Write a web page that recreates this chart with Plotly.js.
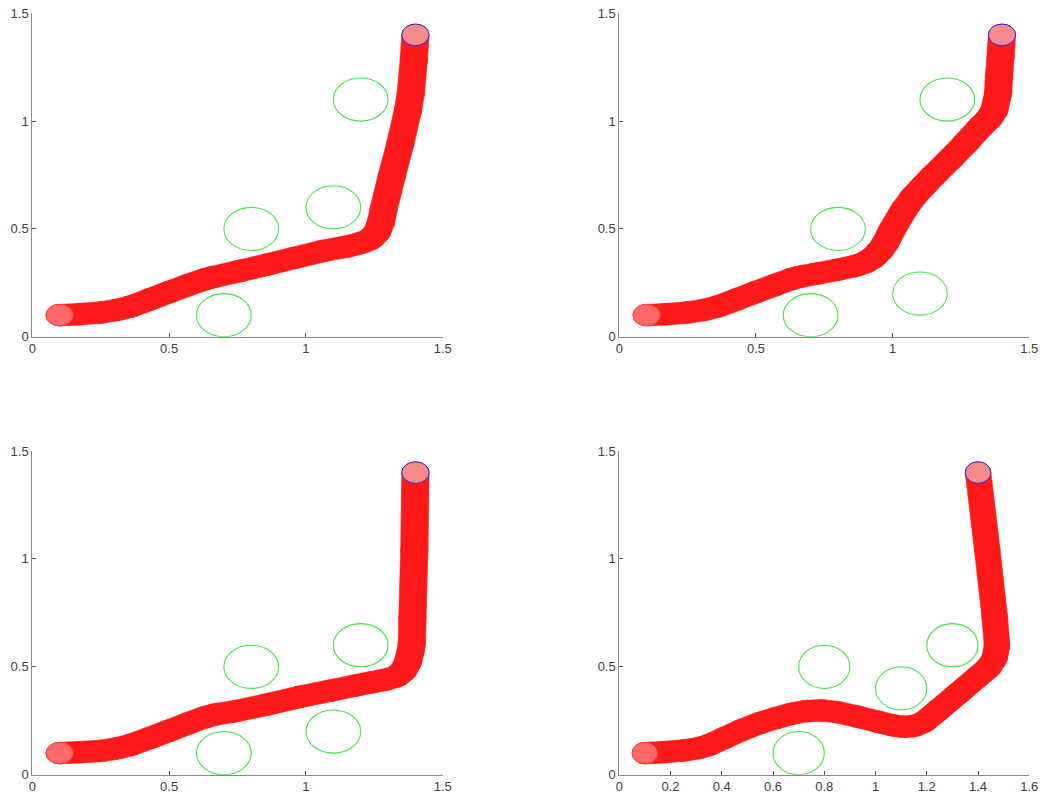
<!DOCTYPE html>
<html>
<head>
<meta charset="utf-8">
<script src="https://cdn.plot.ly/plotly-3.0.1.min.js"></script>
<style>
  html, body { margin: 0; padding: 0; background: #ffffff; }
  #plot { width: 1046px; height: 800px; }
</style>
</head>
<body>
<div id="plot"></div>
<script>
// Robot footprint radius and obstacle radius (data units)
const robotRadius = 0.05;
const obstacleRadius = 0.1;

// Start and goal positions
const startX = 0.1, startY = 0.1;
const goalX = 1.4, goalY = 1.4;

// Scenario 1: four obstacles
const obstacles1X = [0.7, 0.8, 1.1, 1.2];
const obstacles1Y = [0.1, 0.5, 0.6, 1.1];
const path1X = [0.10, 0.17, 0.25, 0.31, 0.36, 0.43, 0.50, 0.57, 0.63, 0.66, 0.76, 0.86, 0.96, 1.06, 1.15, 1.20, 1.235, 1.26, 1.275, 1.283, 1.313, 1.345, 1.373, 1.383, 1.394, 1.400];
const path1Y = [0.100, 0.104, 0.112, 0.124, 0.140, 0.173, 0.207, 0.240, 0.266, 0.276, 0.305, 0.335, 0.366, 0.397, 0.418, 0.434, 0.452, 0.485, 0.535, 0.588, 0.742, 0.897, 1.051, 1.129, 1.283, 1.400];

// Scenario 2: obstacle moved from (1.1, 0.6) to (1.1, 0.2)
const obstacles2X = [0.7, 0.8, 1.1, 1.2];
const obstacles2Y = [0.1, 0.5, 0.2, 1.1];
const path2X = [0.10, 0.17, 0.25, 0.31, 0.36, 0.43, 0.50, 0.57, 0.63, 0.66, 0.72, 0.80, 0.86, 0.90, 0.93, 0.955, 0.973, 1.00, 1.041, 1.076, 1.145, 1.21, 1.267, 1.322, 1.352, 1.372, 1.386, 1.389, 1.395, 1.400];
const path2Y = [0.100, 0.104, 0.112, 0.124, 0.140, 0.173, 0.207, 0.240, 0.268, 0.278, 0.292, 0.311, 0.327, 0.344, 0.368, 0.400, 0.433, 0.500, 0.588, 0.649, 0.742, 0.823, 0.897, 0.974, 1.010, 1.050, 1.129, 1.206, 1.300, 1.400];

// Scenario 3: obstacle at (1.2, 0.6)
const obstacles3X = [0.7, 0.8, 1.1, 1.2];
const obstacles3Y = [0.1, 0.5, 0.2, 0.6];
const path3X = [0.10, 0.17, 0.25, 0.31, 0.36, 0.43, 0.50, 0.57, 0.63, 0.67, 0.734, 0.857, 0.978, 1.088, 1.18, 1.24, 1.29, 1.33, 1.355, 1.372, 1.382, 1.387, 1.389, 1.396, 1.400];
const path3Y = [0.100, 0.104, 0.110, 0.122, 0.138, 0.170, 0.204, 0.238, 0.266, 0.280, 0.292, 0.325, 0.361, 0.389, 0.413, 0.428, 0.440, 0.455, 0.480, 0.520, 0.570, 0.609, 0.732, 1.041, 1.400];

// Scenario 4: obstacles at (1.1, 0.4) and (1.3, 0.6)
const obstacles4X = [0.7, 0.8, 1.1, 1.3];
const obstacles4Y = [0.1, 0.5, 0.4, 0.6];
const path4X = [0.10, 0.17, 0.25, 0.31, 0.35, 0.41, 0.48, 0.55, 0.61, 0.67, 0.73, 0.79, 0.85, 0.93, 1.01, 1.07, 1.11, 1.15, 1.19, 1.246, 1.323, 1.40, 1.44, 1.465, 1.474, 1.465, 1.436, 1.400];
const path4Y = [0.100, 0.104, 0.112, 0.123, 0.137, 0.170, 0.208, 0.240, 0.262, 0.282, 0.295, 0.298, 0.290, 0.269, 0.245, 0.228, 0.222, 0.225, 0.245, 0.300, 0.377, 0.455, 0.495, 0.540, 0.600, 0.732, 1.041, 1.400];

// Tick values and labels
const tickVals = [0, 0.5, 1, 1.5];
const tickText = ['0', '0.5', '1', '1.5'];
const tickVals4 = [0, 0.2, 0.4, 0.6, 0.8, 1, 1.2, 1.4, 1.6];
const tickText4 = ['0', '0.2', '0.4', '0.6', '0.8', '1', '1.2', '1.4', '1.6'];

const RED = 'rgb(255,26,26)';
const GREEN = 'rgb(70,228,70)';
const BLUE = 'rgb(40,40,235)';

function circleShape(cx, cy, r, xr, yr, lineColor, fill, lw) {
  return {
    type: 'circle', xref: xr, yref: yr,
    x0: cx - r, x1: cx + r, y0: cy - r, y1: cy + r,
    line: { color: lineColor, width: lw },
    fillcolor: fill, layer: 'above'
  };
}

// Swept area of the circular robot along the path: a band around each
// segment (offset by the radius along the segment normal) plus a disc at
// every path vertex.
function sweptShapes(xs, ys, xr, yr) {
  const out = [];
  for (let i = 0; i < xs.length - 1; i++) {
    const dx = xs[i + 1] - xs[i], dy = ys[i + 1] - ys[i];
    const len = Math.hypot(dx, dy);
    if (len === 0) continue;
    const nx = -dy / len * robotRadius, ny = dx / len * robotRadius;
    const p = [
      [xs[i] + nx, ys[i] + ny], [xs[i + 1] + nx, ys[i + 1] + ny],
      [xs[i + 1] - nx, ys[i + 1] - ny], [xs[i] - nx, ys[i] - ny]
    ];
    out.push({
      type: 'path', xref: xr, yref: yr, layer: 'above',
      path: 'M ' + p.map(q => q[0] + ',' + q[1]).join(' L ') + ' Z',
      fillcolor: RED, line: { color: RED, width: 0.6 }
    });
  }
  for (let i = 0; i < xs.length; i++) {
    out.push(circleShape(xs[i], ys[i], robotRadius, xr, yr, RED, RED, 0.6));
  }
  return out;
}

function sceneShapes(px, py, ox, oy, xr, yr) {
  let s = sweptShapes(px, py, xr, yr);
  // start footprint
  s.push(circleShape(startX, startY, robotRadius, xr, yr, 'rgb(255,60,60)', 'rgb(255,105,105)', 1));
  // goal footprint
  s.push(circleShape(goalX, goalY, robotRadius, xr, yr, BLUE, 'rgb(244,138,138)', 1));
  // obstacles
  for (let i = 0; i < ox.length; i++) {
    s.push(circleShape(ox[i], oy[i], obstacleRadius, xr, yr, GREEN, 'rgba(0,0,0,0)', 1.1));
  }
  return s;
}

const scenes = [
  { px: path1X, py: path1Y, ox: obstacles1X, oy: obstacles1Y, xa: 'x',  ya: 'y'  },
  { px: path2X, py: path2Y, ox: obstacles2X, oy: obstacles2Y, xa: 'x2', ya: 'y2' },
  { px: path3X, py: path3Y, ox: obstacles3X, oy: obstacles3Y, xa: 'x3', ya: 'y3' },
  { px: path4X, py: path4Y, ox: obstacles4X, oy: obstacles4Y, xa: 'x4', ya: 'y4' }
];

let shapes = [];
const traces = [];
scenes.forEach(sc => {
  shapes = shapes.concat(sceneShapes(sc.px, sc.py, sc.ox, sc.oy, sc.xa, sc.ya));
  traces.push({
    type: 'scatter', mode: 'none', x: sc.px, y: sc.py,
    xaxis: sc.xa, yaxis: sc.ya, hoverinfo: 'skip', showlegend: false
  });
});

const font = { family: '"Liberation Sans", Arial, sans-serif', size: 13, color: '#404040' };

function axis(domain, anchor, range, vals, text) {
  return {
    domain: domain, anchor: anchor, range: range, autorange: false,
    tickmode: 'array', tickvals: vals, ticktext: text,
    ticks: 'inside', ticklen: 4, tickwidth: 1, tickcolor: '#555555',
    showline: true, linecolor: '#8a8a8a', linewidth: 1, mirror: false,
    showgrid: false, zeroline: false, tickfont: font, fixedrange: true
  };
}

const xLeft = [0.03088, 0.42333], xRight = [0.59207, 0.98403];
const yTop = [0.579125, 0.983375], yBottom = [0.031625, 0.43625];

const layout = {
  width: 1046, height: 800,
  margin: { l: 0, r: 0, t: 0, b: 0 },
  paper_bgcolor: '#ffffff', plot_bgcolor: '#ffffff',
  showlegend: false,
  xaxis:  axis(xLeft,  'y',  [0, 1.5], tickVals, tickText),
  yaxis:  axis(yTop,   'x',  [0, 1.5], tickVals, tickText),
  xaxis2: axis(xRight, 'y2', [0, 1.5], tickVals, tickText),
  yaxis2: axis(yTop,   'x2', [0, 1.5], tickVals, tickText),
  xaxis3: axis(xLeft,  'y3', [0, 1.5], tickVals, tickText),
  yaxis3: axis(yBottom,'x3', [0, 1.5], tickVals, tickText),
  xaxis4: axis(xRight, 'y4', [0, 1.6], tickVals4, tickText4),
  yaxis4: axis(yBottom,'x4', [0, 1.5], tickVals, tickText),
  shapes: shapes
};

Plotly.newPlot('plot', traces, layout, { displayModeBar: false, staticPlot: true });
</script>
</body>
</html>
